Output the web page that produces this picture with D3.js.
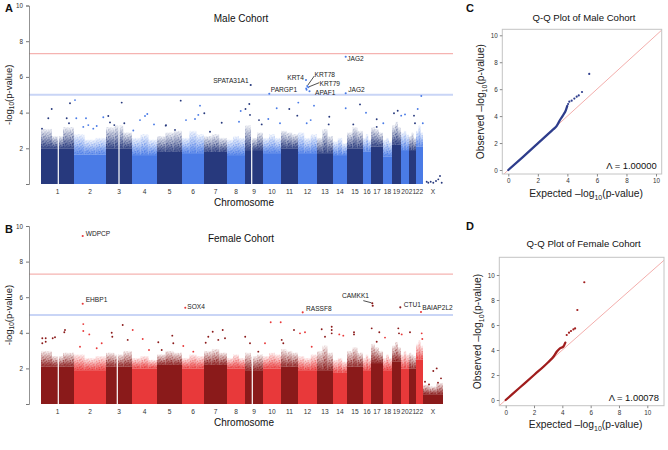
<!DOCTYPE html>
<html><head><meta charset="utf-8">
<script src="https://cdn.jsdelivr.net/npm/d3@7"></script>
<style>body{margin:0;background:#fff} svg{display:block} text{font-family:"Liberation Sans",Arial,Helvetica,sans-serif}</style>
</head><body><svg id="c" width="668" height="450"></svg>
<script>
// ---------------- DATA ----------------
const chromosomes = ["1","2","3","4","5","6","7","8","9","10","11","12","13","14","15","16","17","18","19","20","21","22","X"];
// relative span of each chromosome on the genome axis (number of SNP blocks)
const chromSizes = [33,32,26,25,25,22,23,18,18,18,17,19,16,14,16,8,12,9,9,8,7,7,20];
const yTicks = [0,2,4,6,8,10];
const qqTicks = [0,2,4,6,8,10];
const genomeWideLine = 7.3;
const suggestiveLine = 5;

// Male cohort: top of the solid SNP cloud, and top of the thinning cloud (left / middle / right third)
const maleSolidTop  = [2.0,1.65,2.0,1.62,1.8,1.73,1.8,1.62,1.9,1.73,2.0,1.73,1.73,1.62,2.0,1.83,2.1,1.55,2.2,1.9,1.9,2.1,0];
const maleFringeTop = [[3.1,2.7,3.2],[2.8,2.5,2.6],[3.2,3.3,2.9],[2.6,2.8,2.5],[2.7,2.9,3.0],[2.6,3.0,2.8],[2.7,2.8,2.6],
  [2.5,2.7,2.6],[3.3,2.6,2.9],[2.6,2.8,2.6],[3.0,2.9,2.8],[2.9,2.6,2.8],[2.6,3.1,2.7],[2.4,2.6,2.3],[2.9,3.2,3.0],[2.6,2.8,2.5],
  [3.2,3.1,2.9],[2.5,2.6,2.4],[3.3,3.5,3.2],[2.9,3.0,2.8],[2.7,2.9,2.6],[3.0,3.3,2.9],[0,0,0]];
const maleGaps = [[1,17.3],[3,13],[9,6.7]];
// scattered SNPs [chromosome, position in chromosome, -log10 p]
const maleSnps = [
 [1,29,4.52],[2,1,4.7],[1,10.7,4.2],[1,7.3,3.68],[3,15.7,4.56],[1,25.7,3.68],[1,28,3.4],[2,2.3,3.68],[2,12,3.68],[2,14.3,3.3],
 [2,29.3,3.74],[3,2.3,3.81],[3,4,3.45],[3,18.3,3.4],[3,8.3,3.3],[4,8,3.58],[4,13,3.81],[4,15.3,3.92],[4,22,3.34],[5,9,3.3],
 [4,1.3,3.0],[1,1,3.1],[2,22.7,3.25],[2,19.3,3.1],[2,9.3,3.2],[5,23.7,4.67],[6,18,4.39],[7,0.3,3.96],[6,4,3.58],[6,13,3.64],
 [6,16.3,3.87],[5,8.7,3.27],[7,17.7,3.43],[8,13.7,4.09],[9,0.5,4.2],[9,4.3,4.48],[9,5,3.87],[8,12,3.49],[10,13.7,4.24],[11,8.3,4.2],
 [11,16.3,3.83],[9,14,3.58],[9,16.7,3.34],[10,5.3,3.64],[5,18,3.03],[7,6,2.93],[10,17,3.4],[12,0.3,4.56],[12,16,4.39],[14,12.7,4.24],
 [15,13,4.46],[16,3,3.99],[13,12.3,3.77],[13,11.7,3.34],[12,12.7,3.58],[12,8.7,3.4],[15,6.3,3.34],[17,5.7,3.63],[19,2,3.96],[19,5.7,4.1],
 [20,0.2,3.83],[20,4,3.9],[21,5,3.83],[22,1.7,4.2],[22,5.3,4.93],[21,6,3.4],[22,6.8,3.4],[17,5.7,3.2],[18,0.3,3.4],
 [23,3.7,0.13],[23,5.3,0.07],[23,7.7,0.13],[23,10.3,0.07],[23,13,0.17],[23,15.3,0.26],[23,17,0.45],[23,18.7,0.07],
 [12,8.2,5.35],[12,8.6,5.28]
];
const maleHits = [
 [14,12.7,7.13,"JAG2"],[9,5.7,5.55,"SPATA31A1"],[10,6.3,5.06,"PARGP1"],[12,8,5.83,"KRT4"],
 [12,9.3,5.49,"KRT78"],[12,10.3,5.42,"KRT79"],[12,11.5,5.2,"APAF1"],[14,12.7,5.08,"JAG2"]
];

// Female cohort
const femaleSolidTop  = [2.1,1.9,2.1,2.0,2.2,2.0,2.2,2.0,1.9,2.0,2.1,1.9,1.9,1.75,2.1,1.9,2.3,1.9,2.4,2.0,2.0,2.5,0.55];
const femaleFringeTop = [[3.0,2.7,2.9],[2.8,2.6,2.7],[2.9,2.8,3.0],[2.6,2.7,2.5],[2.8,3.0,2.9],[2.6,2.8,2.7],[3.0,3.1,2.9],
  [2.6,2.8,2.6],[2.9,2.7,2.8],[2.7,2.9,2.8],[3.1,3.0,2.9],[2.7,2.6,2.8],[3.0,3.3,2.9],[2.5,2.6,2.4],[3.0,3.2,2.9],[2.6,2.8,2.6],
  [3.4,3.2,3.0],[2.6,2.8,2.6],[3.3,3.5,3.2],[2.8,3.0,2.8],[2.9,2.8,2.7],[3.4,3.6,3.3],[1.1,1.0,1.2]];
const femaleGaps = [[1,17.3],[3,11.3],[9,7.3]];
const femaleSnps = [
 [2,9.3,4.49],[2,9.3,4.1],[2,15.3,3.91],[1,24,4.16],[1,23.3,4.03],[1,14,3.75],[1,11.7,3.69],[1,1.3,3.69],[1,1.3,3.41],[1,4.7,3.69],
 [1,4.7,3.5],[3,16.7,4.44],[3,5.7,4.0],[3,6.3,3.78],[4,0.7,4.16],[3,21.7,3.6],[4,10.7,3.65],[5,1.3,3.47],[5,15.3,3.84],[5,16.3,3.41],
 [6,1.3,3.26],[6,11.3,2.94],[7,8.7,4.06],[7,18.7,4.16],[7,4.3,3.78],[7,1.7,3.44],[7,14.3,3.6],[2,27.7,3.41],[2,22.7,3.13],[2,6,3.22],
 [4,17,3.03],[5,4.7,3.03],[10,7.7,4.59],[10,17.7,4.59],[11,13,4.16],[12,7,4.03],[12,2,3.97],[13,14.7,4.34],[13,14.7,4.16],[13,14.7,3.97],
 [13,4.7,4.2],[13,8,3.78],[14,6.3,3.91],[14,10.3,3.84],[15,7,4.03],[15,7,3.91],[17,0.7,4.25],[17,8.3,4.03],[18,2,3.73],[19,6.3,4.25],
 [19,7,3.97],[20,0.7,3.91],[21,1,4.03],[22,5.7,3.97],[22,6.3,3.65],[9,0.2,3.78],[9,5,3.41],[7,21,3.69],[9,13.3,2.94],[10,2,3.41],
 [11,0.7,3.6],[11,2.3,3.41],[12,13.7,3.22],[17,5.7,3.5],
 [23,13.7,2.0],[23,10.3,1.85],[23,18,1.44],[23,2,1.25],[23,6,1.1],[23,15,1.2]
];
const femaleHits = [
 [2,8.7,9.44,"WDPCP"],[2,8.7,5.63,"EHBP1"],[6,3.3,5.41,"SOX4"],[12,4.7,5.15,"RASSF8"],
 [17,1.3,5.66,"CAMKK1"],[17,1.7,5.52,""],[19,8.3,5.43,"CTU1"],[22,5,5.17,"BAIAP2L2"]
];

// Q-Q plots: [expected, observed]
const maleQQLine = [[0,0],[1,0.98],[2,1.98],[3,2.98],[3.28,3.27],[3.5,3.71],[3.72,4.08],[3.9,4.45],[3.99,4.75]];
const maleQQTail = [[4.05,4.9],[4.13,5.07],[4.29,5.15],[4.47,5.3],[4.63,5.44],[4.77,5.54],[4.99,5.79],[5.48,7.13]];
const femaleQQLine = [[0,0],[1,1],[2,2],[3,3.02],[3.4,3.5],[3.6,3.86],[3.83,4.13],[4.07,4.27],[4.21,4.59]];
const femaleQQTail = [[4.31,5.2],[4.47,5.39],[4.61,5.52],[4.78,5.65],[4.9,5.73],[5.06,7.2],[5.55,9.42]];
const maleLambda = "1.00000";
const femaleLambda = "1.00078";

// ---------------- LAYOUT / STYLE ----------------
const FONT = '"Liberation Sans",Arial,Helvetica,sans-serif';
const svg = d3.select("#c");
const defs = svg.append("defs");

const palettes = {
  male:   {dark:"#27397d", light:"#4a7be6", qq:"#2e3d8c"},
  female: {dark:"#8a1a1a", light:"#e8393a", qq:"#a01d1d"}
};
// speckle texture for the thinning part of the SNP clouds (pure styling)
const speck = [[0.6,0.5],[3.1,1.2],[1.8,2.6],[4.4,3.3],[0.5,4.2],[2.9,4.6],[5.6,0.4],[5.9,2.4],[6.6,4.9],[2.2,6.3],[4.6,6.1],[0.9,6.8]];
function makeFill(id, color){
  const g = defs.append("linearGradient").attr("id", id+"G").attr("x1",0).attr("y1",1).attr("x2",0).attr("y2",0);
  g.append("stop").attr("offset","0").attr("stop-color",color).attr("stop-opacity",0.85);
  g.append("stop").attr("offset","0.5").attr("stop-color",color).attr("stop-opacity",0.35);
  g.append("stop").attr("offset","1").attr("stop-color",color).attr("stop-opacity",0.0);
  const p = defs.append("pattern").attr("id", id+"P").attr("patternUnits","userSpaceOnUse").attr("width",7.2).attr("height",7.2);
  speck.forEach(([a,b])=>p.append("circle").attr("cx",a).attr("cy",b).attr("r",0.75).attr("fill",color));
}
const fg = defs.append("linearGradient").attr("id","fadeG").attr("x1",0).attr("y1",1).attr("x2",0).attr("y2",0);
fg.append("stop").attr("offset","0").attr("stop-color","#fff").attr("stop-opacity",1);
fg.append("stop").attr("offset","1").attr("stop-color","#fff").attr("stop-opacity",0.15);
defs.append("mask").attr("id","fade").attr("maskContentUnits","objectBoundingBox")
  .append("rect").attr("width",1).attr("height",1).attr("fill","url(#fadeG)");
Object.entries(palettes).forEach(([k,p])=>{makeFill(k+"Dark",p.dark);makeFill(k+"Light",p.light);});

const starts = [];
chromSizes.reduce((acc,s,i)=>{starts[i]=acc;return acc+s;},0);
const total = d3.sum(chromSizes);
const xG = d3.scaleLinear().domain([0,total]).range([41,443]);

function subTitle(g, x, y, rotate, size, pre, post, anchor){
  const t = g.append("text").attr("transform",`translate(${x},${y})${rotate?" rotate(-90)":""}`)
    .attr("text-anchor",anchor||"middle").attr("font-size",size).attr("fill","#222");
  t.append("tspan").text(pre);
  t.append("tspan").attr("font-size",size*0.68).attr("dy",size*0.25).text("10");
  t.append("tspan").attr("dy",-size*0.25).text(post);
}

function manhattan(cfg){
  const {top,bottom,key,solid,fringe,gaps,snps,hits,title,letter,ann} = cfg;
  const pal = palettes[key];
  const y = d3.scaleLinear().domain([0,10]).range([bottom,top]);
  const g = svg.append("g");
  const col = i => (i%2===0) ? pal.dark : pal.light;
  const fid = i => (i%2===0) ? key+"Dark" : key+"Light";
  const xc = (c,p) => xG(starts[c-1]+p);

  // dense SNP clouds
  chromosomes.forEach((c,i)=>{
    const parts = fringe[i], n = parts.length;
    parts.forEach((ft,j)=>{
      if(ft<=solid[i]) return;
      const x0 = xG(starts[i]+chromSizes[i]*j/n), x1 = xG(starts[i]+chromSizes[i]*(j+1)/n);
      g.append("rect").attr("x",x0).attr("width",x1-x0).attr("y",y(ft)).attr("height",y(solid[i])-y(ft))
        .attr("fill",`url(#${fid(i)}G)`);
      g.append("rect").attr("x",x0).attr("width",x1-x0).attr("y",y(ft)).attr("height",y(solid[i])-y(ft))
        .attr("fill",`url(#${fid(i)}P)`).attr("mask","url(#fade)");
    });
    const x0 = xG(starts[i]), w = xG(starts[i]+chromSizes[i])-x0;
    if(solid[i]>0) g.append("rect").attr("x",x0).attr("width",w)
      .attr("y",y(solid[i])).attr("height",y(0)-y(solid[i])).attr("fill",col(i));
  });
  gaps.forEach(([c,p])=>{
    g.append("line").attr("x1",xc(c,p)).attr("x2",xc(c,p)).attr("y1",y(0)).attr("y2",y(d3.max(fringe[c-1])))
      .attr("stroke","#fff").attr("stroke-width",1.2);
  });
  // threshold lines
  g.append("line").attr("x1",29).attr("x2",453).attr("y1",y(genomeWideLine)).attr("y2",y(genomeWideLine))
    .attr("stroke","#f5b3b1").attr("stroke-width",1.2);
  g.append("line").attr("x1",29).attr("x2",453).attr("y1",y(suggestiveLine)).attr("y2",y(suggestiveLine))
    .attr("stroke","#c9d5f6").attr("stroke-width",1.8);
  // points
  g.selectAll("circle.s").data(snps).join("circle").attr("class","s")
    .attr("cx",d=>xc(d[0],d[1])).attr("cy",d=>y(d[2])).attr("r",0.95).attr("fill",d=>col(d[0]-1));
  g.selectAll("circle.h").data(hits).join("circle").attr("class","h")
    .attr("cx",d=>xc(d[0],d[1])).attr("cy",d=>y(d[2])).attr("r",1.05).attr("fill",d=>col(d[0]-1));
  // labels
  hits.forEach((d,i)=>{
    const a = ann[i]; if(!a) return;
    const px = xc(d[0],d[1]), py = y(d[2]);
    if(a.line) g.append("line").attr("x1",px+a.line[0]).attr("y1",py+a.line[1]).attr("x2",px+a.line[2]).attr("y2",py+a.line[3])
      .attr("stroke","#222").attr("stroke-width",0.8);
    if(d[3]) g.append("text").attr("x",px+a.dx).attr("y",py+a.dy).attr("text-anchor",a.anchor||"start")
      .attr("font-size",6.6).attr("fill","#222").text(d[3]);
  });
  // y axis
  const ax = g.append("g").attr("transform","translate(29,0)")
    .call(d3.axisLeft(y).tickValues(yTicks).tickSize(3).tickPadding(3).tickFormat(v=>v===0?"":v));
  ax.select(".domain").attr("stroke","#777").attr("stroke-width",0.8);
  ax.selectAll(".tick line").attr("stroke","#777");
  ax.selectAll("text").attr("font-size",6.3).attr("fill","#333").attr("font-family",FONT);
  // chromosome labels
  g.selectAll("text.chr").data(chromosomes).join("text").attr("class","chr")
    .attr("x",(c,i)=>xG(starts[i]+chromSizes[i]/2)).attr("y",bottom+10).attr("text-anchor","middle")
    .attr("font-size",6.6).attr("fill","#333").text(c=>c);
  g.append("text").attr("x",244).attr("y",bottom+22).attr("text-anchor","middle").attr("font-size",10).attr("fill","#111").text("Chromosome");
  g.append("text").attr("x",241).attr("y",top+16).attr("text-anchor","middle").attr("font-size",10).attr("fill","#111").text(title);
  g.append("text").attr("x",5).attr("y",top+6.5).attr("font-size",11).attr("font-weight","bold").attr("fill","#111").text(letter);
  subTitle(g, 12, (top+bottom)/2, true, 9.5, "-log", "(p-value)");
}

manhattan({top:5.5,bottom:184,key:"male",solid:maleSolidTop,fringe:maleFringeTop,gaps:maleGaps,snps:maleSnps,hits:maleHits,
  title:"Male Cohort",letter:"A",
  ann:[{dx:1.5,dy:4.3},{dx:-2,dy:-1.7,anchor:"end"},{dx:1.5,dy:-1.7},{dx:-2,dy:0.3,anchor:"end"},
       {dx:7.3,dy:-9,line:[0.6,-1,7,-10]},{dx:11.3,dy:-1.7,line:[0.8,-0.5,11,-4.6]},{dx:5.5,dy:3.9},{dx:2.6,dy:-1.3}]});
manhattan({top:226,bottom:404,key:"female",solid:femaleSolidTop,fringe:femaleFringeTop,gaps:femaleGaps,snps:femaleSnps,hits:femaleHits,
  title:"Female Cohort",letter:"B",
  ann:[{dx:3,dy:-0.4},{dx:3,dy:-2.1},{dx:2,dy:1.3},{dx:3.3,dy:-1},
       {dx:-3.3,dy:-5.3,anchor:"end",line:[-1,-0.5,-9,-2.6]},null,{dx:3.4,dy:-0.7},{dx:1.3,dy:-1.7}]});

function qq(cfg){
  const {frame,xr,yr,key,line,tail,title,letter,lambda,titleY,ylabX,xlabY,lamY} = cfg;
  const pal = palettes[key];
  const x = d3.scaleLinear().domain([0,10]).range(xr);
  const y = d3.scaleLinear().domain([0,10]).range(yr);
  const g = svg.append("g");
  const [fx0,fy0,fx1,fy1] = frame;
  const cid = "clip"+key;
  defs.append("clipPath").attr("id",cid).append("rect").attr("x",fx0).attr("y",fy0).attr("width",fx1-fx0).attr("height",fy1-fy0);
  // diagonal y = x
  const lo = Math.min(x.invert(fx0), y.invert(fy1)), hi = Math.max(x.invert(fx1), y.invert(fy0));
  g.append("line").attr("clip-path",`url(#${cid})`).attr("x1",x(lo)).attr("y1",y(lo)).attr("x2",x(hi)).attr("y2",y(hi))
    .attr("stroke","#f3aeac").attr("stroke-width",1);
  g.append("path").datum(line).attr("d",d3.line().x(d=>x(d[0])).y(d=>y(d[1])).curve(d3.curveMonotoneX))
    .attr("fill","none").attr("stroke",pal.qq).attr("stroke-width",2.3).attr("stroke-linecap","round");
  g.selectAll("circle").data(tail).join("circle").attr("cx",d=>x(d[0])).attr("cy",d=>y(d[1])).attr("r",1.1).attr("fill",pal.qq);
  g.append("rect").attr("x",fx0).attr("y",fy0).attr("width",fx1-fx0).attr("height",fy1-fy0)
    .attr("fill","none").attr("stroke","#c4c4c4").attr("stroke-width",1);
  const ax = g.append("g").attr("transform",`translate(0,${fy1})`).call(d3.axisBottom(x).tickValues(qqTicks).tickSize(2.5).tickPadding(2));
  const ay = g.append("g").attr("transform",`translate(${fx0},0)`).call(d3.axisLeft(y).tickValues(qqTicks).tickSize(2.5).tickPadding(2));
  [ax,ay].forEach(a=>{a.select(".domain").remove();a.selectAll(".tick line").attr("stroke","#888");
    a.selectAll("text").attr("font-size",6.3).attr("fill","#333").attr("font-family",FONT);});
  const cx = (fx0+fx1)/2;
  g.append("text").attr("x",cx+2).attr("y",titleY).attr("text-anchor","middle").attr("font-size",9.6).attr("fill","#111").text(title);
  g.append("text").attr("x",466).attr("y",fy0-cfg.letterOff).attr("font-size",11).attr("font-weight","bold").attr("fill","#111").text(letter);
  subTitle(g, ylabX, (fy0+fy1)/2, true, 10.3, "Observed \u2013log", "(p-value)");
  subTitle(g, cx+4, xlabY, false, 10.3, "Expected \u2013log", "(p-value)");
  g.append("text").attr("x",fx1-5).attr("y",lamY).attr("text-anchor","end").attr("font-size",9.4).attr("fill","#111").text("\u039b = "+lambda);
}
qq({frame:[502.3,29.3,661.7,174],xr:[508.3,656],yr:[170,35.3],key:"male",line:maleQQLine,tail:maleQQTail,
   title:"Q-Q Plot of Male Cohort",letter:"C",lambda:maleLambda,titleY:21,ylabX:484,xlabY:197,lamY:168.5,letterOff:17.5});
qq({frame:[499.3,257.3,664,405.7],xr:[505.7,647.3],yr:[400,275],key:"female",line:femaleQQLine,tail:femaleQQTail,
   title:"Q-Q Plot of Female Cohort",letter:"D",lambda:femaleLambda,titleY:247,ylabX:481,xlabY:428,lamY:400.5,letterOff:27.5});
</script></body></html>
